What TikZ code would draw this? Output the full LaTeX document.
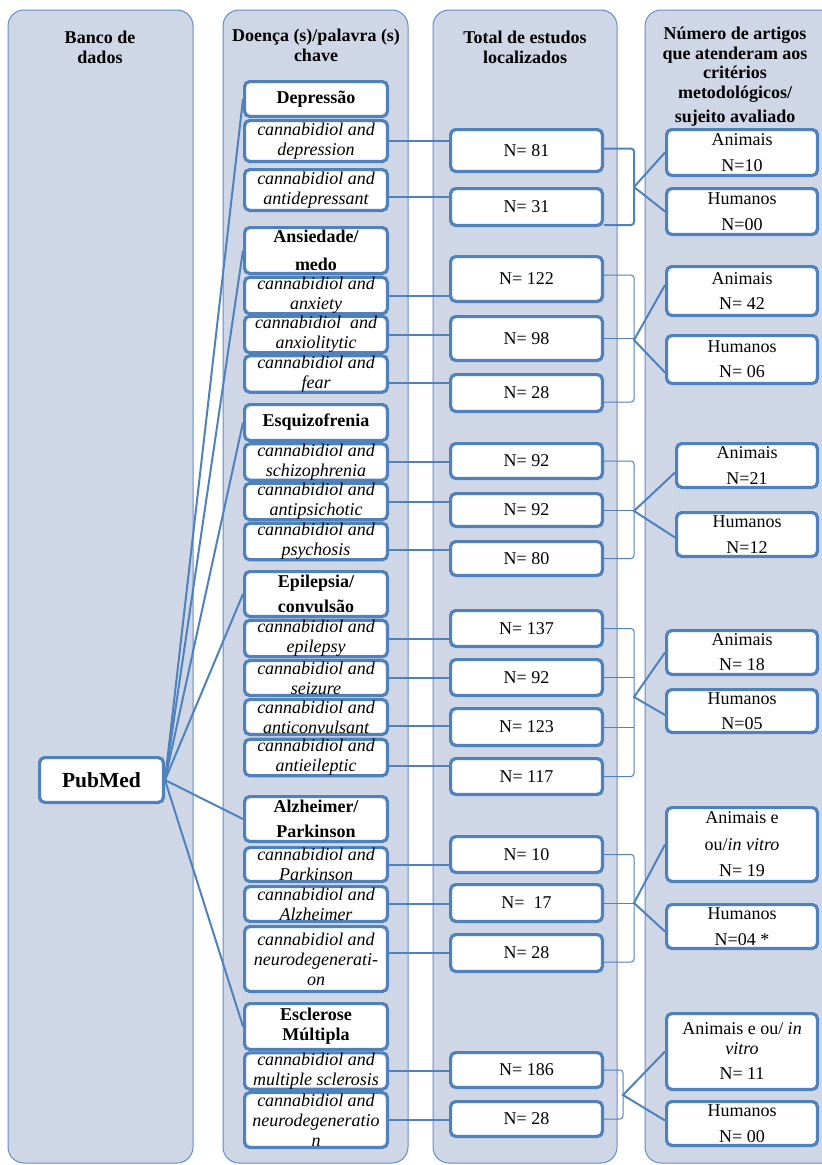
\documentclass[tikz,border=0pt]{standalone}
\usepackage{fontspec}
\setmainfont{Liberation Serif}
\definecolor{colfill}{RGB}{207,215,230}
\definecolor{colline}{RGB}{100,140,200}
\definecolor{boxline}{RGB}{79,129,189}
\newcommand{\mkbox}[7]{\node[#1, minimum width={(#4-#3-3.2)*1pt}, minimum height={(#6-#5-3.2)*1pt}] (#2) at ({(#3+#4)/2},{(#5+#6)/2}) {#7};}
\begin{document}
\begin{tikzpicture}[x=1pt,y=-1pt,
  colbg/.style={fill=colfill, draw=colline, line width=1pt, rounded corners=16pt},
  wbox/.style={draw=boxline, fill=white, line width=3.2pt, rounded corners=5pt, inner sep=0pt, align=center, font=\fontsize{18}{20}\selectfont},
  hd/.style={wbox, font=\bfseries\fontsize{18}{20}\selectfont},
  kw/.style={wbox, font=\itshape\fontsize{18}{20}\selectfont},
  nb/.style={wbox},
  pub/.style={wbox, font=\bfseries\fontsize{21.5}{24}\selectfont},
  link/.style={draw=boxline, line width=2pt},
  brk/.style={draw=boxline, line width=1pt, rounded corners=3pt},
  htitle/.style={font=\bfseries\fontsize{18}{19.5}\selectfont, align=center, inner sep=0pt}]
\useasboundingbox (0,0) rectangle (822,1165);
% columns
\path[colbg] (8,10) rectangle (193,1163);
\path[colbg] (223,10) rectangle (408,1163);
\path[colbg] (433,10) rectangle (617,1163);
\path[colbg] (645,10) rectangle (850,1163);
% headers
\node[htitle] (t1) at (100,47.5) {Banco de\\[1pt]dados};
\node[htitle] (t2) at (316,45.5) {Doença (s)/palavra (s)\\chave};
\node[htitle] (t3) at (525,47.5) {Total de estudos\\[1pt]localizados};
\node[htitle] (t4) at (735,77) {Número de artigos\\que atenderam aos\\critérios\\metodológicos/\\[5pt]sujeito avaliado};
% PubMed
\mkbox{pub}{pub}{38}{165}{756}{804}{PubMed}
% column 2
\mkbox{hd}{dep}{243}{389}{80}{118}{Depressão}
\mkbox{kw}{k1}{243}{389}{119}{163}{cannabidiol and\\depression}
\mkbox{kw}{k2}{243}{389}{168}{212}{cannabidiol and\\antidepressant}
\mkbox{hd}{ans}{243}{389}{226}{275}{Ansiedade/\\[8pt]medo}
\mkbox{kw}{k3}{243}{389}{277}{314}{cannabidiol and\\anxiety}
\mkbox{kw}{k4}{243}{389}{316}{353}{cannabidiol\ \ and\\anxiolitytic}
\mkbox{kw}{k5}{243}{389}{355}{393}{cannabidiol and\\fear}
\mkbox{hd}{esq}{243}{389}{403}{442}{Esquizofrenia}
\mkbox{kw}{k6}{243}{389}{443}{481}{cannabidiol and\\schizophrenia}
\mkbox{kw}{k7}{243}{389}{483}{520}{cannabidiol and\\antipsichotic}
\mkbox{kw}{k8}{243}{389}{522}{561}{cannabidiol and\\psychosis}
\mkbox{hd}{epi}{243}{389}{570}{618}{Epilepsia/\\[5pt]convulsão}
\mkbox{kw}{k9}{243}{389}{620}{657}{cannabidiol and\\epilepsy}
\mkbox{kw}{k10}{243}{389}{659}{697}{cannabidiol and\\seizure}
\mkbox{kw}{k11}{243}{389}{698}{736}{cannabidiol and\\anticonvulsant}
\mkbox{kw}{k12}{243}{389}{738}{777}{cannabidiol and\\antieileptic}
\mkbox{hd}{alz}{243}{389}{795}{843}{Alzheimer/\\[5pt]Parkinson}
\mkbox{kw}{k13}{243}{389}{846}{883}{cannabidiol and\\Parkinson}
\mkbox{kw}{k14}{243}{389}{885}{923}{cannabidiol and\\Alzheimer}
\mkbox{kw}{k15}{243}{389}{925}{993}{cannabidiol and\\neurodegenerati-\\on}
\mkbox{hd}{esc}{243}{389}{1002}{1051}{Esclerose\\Múltipla}
\mkbox{kw}{k16}{243}{389}{1053}{1089}{cannabidiol and\\multiple sclerosis}
\mkbox{kw}{k17}{243}{389}{1091}{1149}{cannabidiol and\\neurodegeneratio\\n}
% column 3
\mkbox{nb}{n1}{449}{604}{128}{173}{N= 81}
\mkbox{nb}{n2}{449}{604}{187}{227}{N= 31}
\mkbox{nb}{n3}{449}{604}{255}{303}{N= 122}
\mkbox{nb}{n4}{449}{604}{315}{362}{N= 98}
\mkbox{nb}{n5}{449}{604}{373}{413}{N= 28}
\mkbox{nb}{n6}{449}{604}{442}{480}{N= 92}
\mkbox{nb}{n7}{449}{604}{492}{528}{N= 92}
\mkbox{nb}{n8}{449}{604}{540}{577}{N= 80}
\mkbox{nb}{n9}{449}{604}{609}{648}{N= 137}
\mkbox{nb}{n10}{449}{604}{658}{697}{N= 92}
\mkbox{nb}{n11}{449}{604}{707}{747}{N= 123}
\mkbox{nb}{n12}{449}{604}{757}{796}{N= 117}
\mkbox{nb}{n13}{449}{604}{835}{874}{N= 10}
\mkbox{nb}{n14}{449}{604}{883}{923}{N=\ \ 17}
\mkbox{nb}{n15}{449}{604}{933}{973}{N= 28}
\mkbox{nb}{n16}{449}{604}{1051}{1089}{N= 186}
\mkbox{nb}{n17}{449}{604}{1100}{1138}{N= 28}
% column 4
\mkbox{nb}{a1}{665}{819}{128}{177}{Animais\\[6pt]N=10}
\mkbox{nb}{h1}{665}{819}{187}{236}{Humanos\\[6pt]N=00}
\mkbox{nb}{a2}{665}{819}{265}{317}{Animais\\[5pt]N= 42}
\mkbox{nb}{h2}{665}{819}{334}{385}{Humanos\\[5pt]N= 06}
\mkbox{nb}{a3}{675}{819}{442}{489}{Animais\\[6pt]N=21}
\mkbox{nb}{h3}{675}{819}{511}{558}{Humanos\\[6pt]N=12}
\mkbox{nb}{a4}{665}{819}{629}{676}{Animais\\[5pt]N= 18}
\mkbox{nb}{h4}{665}{819}{688}{734}{Humanos\\[5pt]N=05}
\mkbox{nb}{a5}{665}{819}{806}{883}{Animais e\\[7pt]ou/\textit{in vitro}\\[6pt]N= 19}
\mkbox{nb}{h5}{665}{819}{903}{950}{Humanos\\[6pt]N=04 *}
\mkbox{nb}{a6}{665}{819}{1012}{1091}{Animais e ou/ \textit{in}\\\textit{vitro}\\[5pt]N= 11}
\mkbox{nb}{h6}{665}{819}{1100}{1147}{Humanos\\[6pt]N= 00}
% PubMed links
\foreach \h in {dep,ans,esq,epi,alz,esc} \draw[link] (pub.east) -- (\h.west);
% keyword -> count links
\draw[link] (k1.east) -- (k1.east -| n1.west);
\draw[link] ([yshift=-7pt]k2.east) -- ([yshift=-7pt]k2.east -| n2.west);
\draw[link] (k3.east) -- (k3.east -| n3.west);
\draw[link] (k4.east) -- (k4.east -| n4.west);
\draw[link] ([yshift=-9pt]k5.east) -- ([yshift=-9pt]k5.east -| n5.west);
\draw[link] (k6.east) -- (k6.east -| n6.west);
\draw[link] (k7.east) -- (k7.east -| n7.west);
\draw[link] ([yshift=-8pt]k8.east) -- ([yshift=-8pt]k8.east -| n8.west);
\draw[link] (k9.east) -- (k9.east -| n9.west);
\draw[link] (k10.east) -- (k10.east -| n10.west);
\draw[link] ([yshift=-9pt]k11.east) -- ([yshift=-9pt]k11.east -| n11.west);
\draw[link] ([yshift=-8pt]k12.east) -- ([yshift=-8pt]k12.east -| n12.west);
\draw[link] (k13.east) -- (k13.east -| n13.west);
\draw[link] (k14.east) -- (k14.east -| n14.west);
\draw[link] ([yshift=6pt]k15.east) -- ([yshift=6pt]k15.east -| n15.west);
\draw[link] (k16.east) -- (k16.east -| n16.west);
\draw[link] (k17.east) -- (k17.east -| n17.west);
% split points
\coordinate (s1) at (634,187);
\coordinate (s2) at (634,340);
\coordinate (s3) at (634,511);
\coordinate (s4) at (634,697);
\coordinate (s5) at (634,903);
\coordinate (s6) at (623,1095);
% brackets
\draw[brk, line width=2pt] ([yshift=2pt]n1.east) -| (s1) |- ([yshift=-18pt]n2.east);
\draw[brk] ([yshift=4pt]n3.east) -| (s2) |- ([yshift=-9pt]n5.east);
\draw[brk] (n4.east) -- (n4.east -| s2);
\draw[brk] (n6.east) -| (s3) |- (n8.east);
\draw[brk] (n7.east) -- (n7.east -| s3);
\draw[brk] (n9.east) -| (s4) |- (n12.east);
\draw[brk] (n10.east) -- (n10.east -| s4);
\draw[brk] (n11.east) -- (n11.east -| s4);
\draw[brk] (n13.east) -| (s5) |- ([yshift=-9pt]n15.east);
\draw[brk] (n14.east) -- (n14.east -| s5);
\draw[brk] (n16.east) -| (s6) |- (n17.east);
% split links
\draw[link] (a1.west) -- (s1) -- (h1.west);
\draw[link] ([yshift=6pt]a2.west) -- (s2) -- ([yshift=-13pt]h2.west);
\draw[link] ([yshift=-7pt]a3.west) -- (s3) -- ([yshift=-3pt]h3.west);
\draw[link] (a4.west) -- (s4) -- ([yshift=-4pt]h4.west);
\draw[link] (a5.west) -- (s5) -- ([yshift=-5pt]h5.west);
\draw[link] (a6.west) -- (s6) -- ([yshift=3pt]h6.west);
\end{tikzpicture}
\end{document}
